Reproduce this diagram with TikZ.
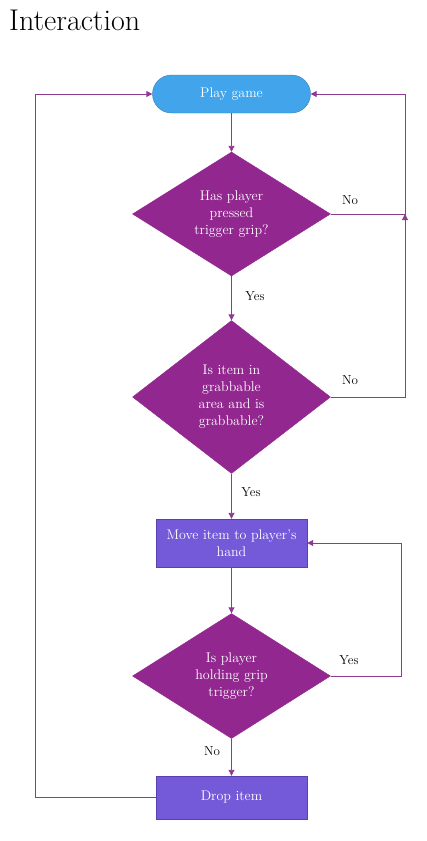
\documentclass[tikz,border=0pt]{standalone}
\usetikzlibrary{shapes.geometric,arrows.meta}
\definecolor{dpurple}{HTML}{92278F}
\definecolor{lpurple}{HTML}{8E3A92}
\definecolor{pblue}{HTML}{42A5EC}
\definecolor{pblueb}{HTML}{3A7FB8}
\definecolor{pviolet}{HTML}{745AD8}
\definecolor{pvioletb}{HTML}{5A3FB0}
\begin{document}
\begin{tikzpicture}[x=1pt,y=-1pt,
  txt/.style={font=\fontsize{14}{17}\selectfont, text=white, align=center},
  startnode/.style={txt, draw=pblueb, fill=pblue, rounded corners=19pt, minimum width=158pt, minimum height=38pt, inner sep=0pt},
  decision/.style={txt, draw=dpurple, fill=dpurple, diamond, minimum width=198pt, inner sep=0pt},
  procbox/.style={txt, draw=pvioletb, fill=pviolet, minimum width=151pt, inner sep=0pt},
  conn/.style={draw=lpurple, line width=0.9pt, -{Triangle[width=6pt,length=6pt]}},
  lbl/.style={font=\fontsize{13}{15}\selectfont, text=black}]
\useasboundingbox (0,0) rectangle (426,841);
\node[anchor=base west, font=\fontsize{30}{33}\selectfont, inner sep=0pt] (title) at (9,30) {Interaction};
\node[startnode] (start) at (231.5,94) {Play game};
\node[decision, minimum height=124pt, aspect=1.6] (d1) at (231.5,214) {};
\node[txt] at (231.5,214) {Has player\\pressed\\trigger grip?};
\node[decision, minimum height=153pt, aspect=1.3] (d2) at (231.5,397) {};
\node[txt] at (231.5,397) {Is item in\\grabbable\\area and is\\grabbable?};
\node[procbox, minimum height=48pt] (move) at (231.5,543) {Move item to player's\\hand};
\node[decision, minimum height=125pt, aspect=1.58] (d3) at (231.5,676) {};
\node[txt] at (231.5,676) {Is player\\holding grip\\trigger?};
\node[procbox, minimum height=43pt] (drop) at (231.5,797.5) {Drop item};
\coordinate (c1) at (405,214);
\coordinate (c1t) at (405,94);
\coordinate (c2) at (405,397);
\coordinate (c3) at (401,676);
\coordinate (c3t) at (401,543);
\coordinate (c4) at (35,797.5);
\coordinate (c4t) at (35,94);
\draw[conn] (start.south) -- (d1.north);
\draw[conn] (d1.south) -- (d2.north);
\node[lbl] (yes1) at (255,296) {Yes};
\draw[conn] (d2.south) -- (move.north);
\node[lbl] (yes2) at (251,492) {Yes};
\draw[conn] (move.south) -- (d3.north);
\draw[conn] (d3.south) -- (drop.north);
\node[lbl] (no3) at (212,751) {No};
\draw[conn] (d1.east) -- (c1) -- (c1t) -- (start.east);
\node[lbl] (no1) at (350,200) {No};
\draw[conn] (d2.east) -- (c2) -- (c1);
\node[lbl] (no2) at (350,380) {No};
\draw[conn] (d3.east) -- (c3) -- (c3t) -- (move.east);
\node[lbl] (yes3) at (349,660) {Yes};
\draw[conn] (drop.west) -- (c4) -- (c4t) -- (start.west);
\end{tikzpicture}
\end{document}
